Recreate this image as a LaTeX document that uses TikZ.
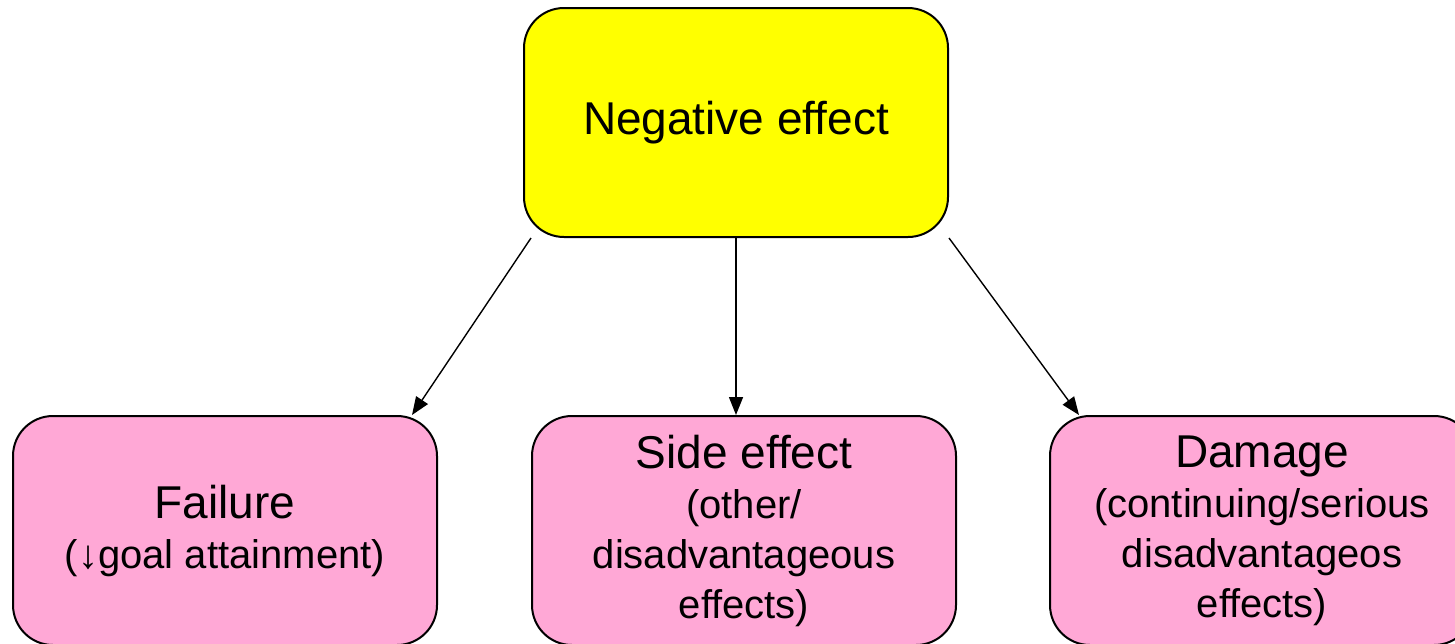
\documentclass[tikz,border=0pt]{standalone}
\usepackage{fontspec}
\setmainfont{Liberation Sans}
\usetikzlibrary{arrows.meta}
\definecolor{effectyellow}{HTML}{FFFF00}
\definecolor{effectpink}{HTML}{FFA8D6}
\newcommand{\headfont}{\fontsize{23}{25}\selectfont}
\newcommand{\subfont}{\fontsize{20}{25}\selectfont}

\begin{document}
\begin{tikzpicture}[x=0.5pt, y=-0.5pt,
    effect/.style={draw, line width=1pt, rounded corners=20pt, font=\subfont,
      minimum width=212pt, minimum height=114.5pt, align=center},
    link/.style={-{Triangle[length=9pt,width=7pt]}, line width=0.7pt}]
  \useasboundingbox (0,0) rectangle (1455,643);

  % top box
  \node[effect, fill=effectyellow] (neg) at (736,122.5) {\headfont Negative effect};

  % bottom boxes
  \node[effect, fill=effectpink] (fail) at (225,530.5)
    {\headfont Failure\\ ({\char"2193}goal attainment)};
  \node[effect, fill=effectpink] (side) at (744,530.5)
    {\headfont Side effect\\ (other/\\ disadvantageous\\ effects)};
  \node[effect, fill=effectpink] (dam) at (1262,530.5)
    {\headfont Damage\\ (continuing/serious\\ disadvantageos\\ effects)};

  % arrows
  \draw[link] ([xshift=4pt]neg.south west) -- ([xshift=-13pt]fail.north east);
  \draw[link] (neg.south) -- (neg.south |- side.north);
  \draw[link] (neg.south east) -- ([xshift=15pt]dam.north west);
\end{tikzpicture}
\end{document}
